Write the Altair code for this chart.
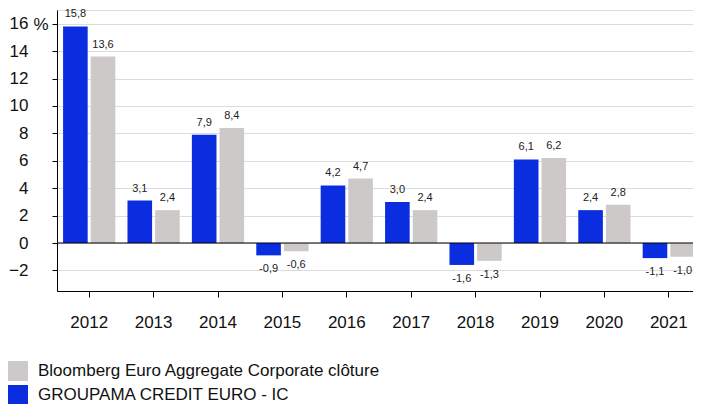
import altair as alt
import pandas as pd

years = ["2012", "2013", "2014", "2015", "2016", "2017", "2018", "2019", "2020", "2021"]
fund_values = [15.8, 3.1, 7.9, -0.9, 4.2, 3.0, -1.6, 6.1, 2.4, -1.1]
bench_values = [13.6, 2.4, 8.4, -0.6, 4.7, 2.4, -1.3, 6.2, 2.8, -1.0]
fund_name = "GROUPAMA CREDIT EURO - IC"
bench_name = "Bloomberg Euro Aggregate Corporate clôture"
y_ticks = [-2, 0, 2, 4, 6, 8, 10, 12, 14, 16]

BLUE = "#0b2de0"
GRAY = "#cdc9c9"
FONT = "Liberation Sans"

rows = []
for yr, f, b in zip(years, fund_values, bench_values):
    rows.append({"year": yr, "series": fund_name, "value": f})
    rows.append({"year": yr, "series": bench_name, "value": b})
df = pd.DataFrame(rows)
df["label"] = df["value"].map(lambda v: f"{v:.1f}".replace(".", ","))

y_axis = alt.Axis(
    values=y_ticks, grid=True, gridColor="#dcdcdc", domainColor="black",
    tickColor="black", tickSize=5, labelFontSize=17, labelPadding=24,
    labelColor="#111", labelFont=FONT, labelOverlap=False, labelBound=False,
    labelFlush=False,
    title="%", titleAngle=0, titleX=-9, titleY=14, titleAlign="right",
    titleBaseline="middle", titleFontSize=17, titleFontWeight="normal",
    titleFont=FONT, titleColor="#111",
)
y_scale = alt.Scale(domain=[-3.5, 17], nice=False, zero=False)

base = alt.Chart(df).encode(
    x=alt.X(
        "year:N",
        sort=years,
        scale=alt.Scale(paddingInner=0, paddingOuter=0, range=[0, 644]),
        axis=alt.Axis(
            title=None, labelAngle=0, tickSize=6, labelFontSize=17, labelPadding=17,
            domainColor="black", tickColor="black", labelColor="#111", labelFont=FONT,
            grid=False, labelOverlap=False,
        ),
    ),
    xOffset=alt.XOffset(
        "series:N", sort=[fund_name, bench_name],
        scale=alt.Scale(paddingInner=0.11, paddingOuter=0.22),
    ),
    y=alt.Y("value:Q", scale=y_scale, axis=y_axis),
)

bars = base.mark_bar().encode(
    color=alt.Color(
        "series:N",
        scale=alt.Scale(domain=[bench_name, fund_name], range=[GRAY, BLUE]),
        legend=alt.Legend(
            orient="none", legendX=-49, legendY=351, title=None,
            symbolType="square", symbolSize=400, symbolStrokeWidth=0,
            labelFontSize=17, labelFont=FONT, labelColor="#111", labelLimit=0,
            rowPadding=4, labelOffset=10, direction="vertical",
        ),
    )
)

zero = alt.Chart(pd.DataFrame({"value": [0]})).mark_rule(color="black", strokeWidth=1.2).encode(
    y=alt.Y("value:Q", scale=y_scale, axis=y_axis)
)

pos_labels = base.transform_filter("datum.value >= 0").mark_text(
    baseline="alphabetic", dy=-9, fontSize=11, font=FONT, color="#222"
).encode(text="label:N")

neg_labels = base.transform_filter("datum.value < 0").mark_text(
    baseline="top", dy=8, fontSize=11, font=FONT, color="#222"
).encode(text="label:N")

chart = alt.layer(bars, zero, pos_labels, neg_labels).properties(
    width=636,
    height=281,
    autosize=alt.AutoSizeParams(type="none"),
    padding={"left": 49, "top": 2, "right": 0, "bottom": 113},
).configure_view(stroke=None).configure(background="white").configure_axis(labelOverlap=False)

chart.save("out.html", embed_options={"renderer": "svg", "actions": False})
